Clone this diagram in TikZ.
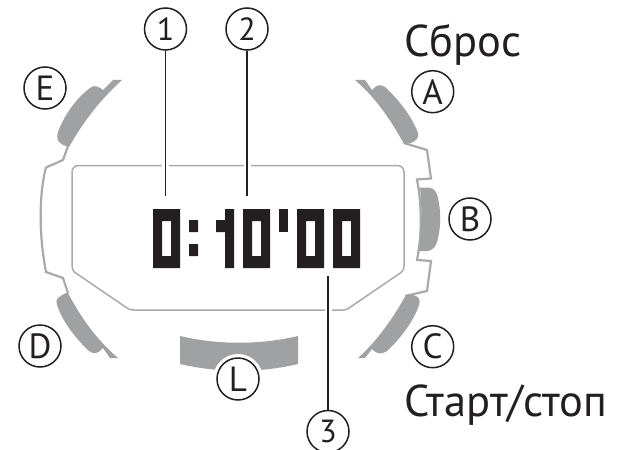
\documentclass[tikz,border=0pt]{standalone}
\usepackage{fontspec}
\setmainfont{PT Sans}
\newfontfamily\capfont{PT Sans}
\definecolor{ink}{HTML}{231F20}
\definecolor{btn}{HTML}{A0A1A3}
\definecolor{edge}{HTML}{A9AAAC}
\tikzset{
  mark circle/.style={circle,draw=ink,line width=1.5pt,minimum size=42pt,inner sep=0pt,text=ink,font=\fontsize{35}{35}\selectfont},
  digit circle/.style={mark circle,font=\fontsize{32}{32}\selectfont},
  leader/.style={draw=ink,line width=1.2pt},
  halo/.style={draw=white,line width=7pt},
  caption/.style={anchor=base west,inner sep=0pt,text=ink,font=\capfont\fontsize{44.5}{44.5}\selectfont},
  outline/.style={draw=edge,line width=1.5pt,line join=round},
  case/.style={draw=edge,line width=2.2pt,line join=miter},
  button/.style={fill=btn,draw=none},
  seg/.style={fill=ink,draw=none,even odd rule}
}
\begin{document}
\begin{tikzpicture}[x=1pt,y=-1pt]
\useasboundingbox (0,0) rectangle (617,449);
\fill[white] (0,0) rectangle (617,449);
% display outline
\draw[outline] (72,262) -- (72,172) .. controls (72,168) and (75,165.5) .. (79,165.5)
  -- (397,165.5) .. controls (401,165.5) and (404,168) .. (404,172) -- (404,266)
  .. controls (404,269) and (403,271) .. (401,272.5) -- (349,308) .. controls (347,309.5) and (345,310) .. (343,310)
  -- (134,310) .. controls (131,310) and (129,309.5) .. (127,308) -- (75,272.5) .. controls (73,271) and (72,269) .. (72,266) -- cycle;
% case lines
\draw[case] (68,146) -- (63,160) -- (46,167.5) .. controls (41,185) and (37,225) .. (46,272) -- (63,278) -- (68,293);
\draw[case] (404,143) -- (427,150) -- (431,178.5) -- (417,179.5) .. controls (422,205) and (422,235) .. (417,260) -- (431,261) -- (427,291) -- (405,296);
% buttons
\path[button] (113,80) -- (122,80) .. controls (100,100) and (83,122) .. (69,147) -- (63,145) .. controls (58,142) and (56,139) .. (58,132) .. controls (65,113) and (78,97) .. (90,88) .. controls (95,84) and (99,87) .. (103,90) -- cycle;
\path[button] (355,80) -- (365,80) -- (372,90) .. controls (376,85) and (380,84) .. (385,87) .. controls (400,101) and (412,117) .. (418,133) .. controls (419,138) and (416,141) .. (411,143) -- (404,144) .. controls (391,120) and (375,97) .. cycle;
\path[button] (420,187.5) -- (429,187.5) .. controls (434,188) and (437,192) .. (438,198) .. controls (441,212) and (441,225) .. (438,238) .. controls (437,246) and (433,250) .. (428,251) -- (419,251) .. controls (422,230) and (422,208) .. cycle;
\path[button] (358,358) -- (365,358) -- (372,349) .. controls (376,354) and (382,355) .. (387,351) .. controls (402,337) and (414,320) .. (419,305) .. controls (421,299) and (418,296) .. (413,295) -- (406,295) .. controls (393,318) and (378,340) .. cycle;
\path[button] (118,358) -- (110,358) -- (103,348) .. controls (99,353) and (94,355) .. (89,351) .. controls (74,337) and (62,320) .. (57,305) .. controls (55,299) and (58,297) .. (66,293) -- (68,293) .. controls (81,318) and (97,340) .. cycle;
\path[button] (180,336) .. controls (218,345) and (260,345) .. (298,336) -- (298,364) .. controls (260,373) and (218,373) .. (180,364) -- cycle;
% digits
\path[seg] (153,209) rectangle (180,268) (162,221) rectangle (171,256);
\path[seg] (189,220) rectangle (198,232) (189,244) rectangle (198,256);
\path[seg] (225,209) rectangle (234,268) (216,220) rectangle (225,232);
\path[seg] (243,209) rectangle (270,268) (252,221) rectangle (261,256);
\path[seg] (279,209) rectangle (288,232);
\path[seg] (297,209) rectangle (324,268) (306,221) rectangle (315,256);
\path[seg] (333,209) rectangle (360,268) (342,221) rectangle (351,256);
% callouts
\node[digit circle] (n1) at (165.5,29) {1};
\node[digit circle] (n2) at (247,29) {2};
\node[digit circle] (n3) at (328,431.5) {3};
\coordinate (e1) at (165.5,196);
\coordinate (e2) at (247,196);
\coordinate (e3) at (328,276);
\draw[halo] (165.5,158) -- (165.5,173);
\draw[halo] (247,158) -- (247,173);
\draw[halo] (328,303) -- (328,317);
\draw[leader] (n1) -- (e1);
\draw[leader] (n2) -- (e2);
\draw[leader] (n3) -- (e3);
\node[mark circle] (nE) at (45,88) {E};
\node[mark circle] (nA) at (432.7,91.7) {A};
\node[mark circle] (nB) at (470,219) {B};
\node[mark circle] (nC) at (432.7,346.7) {C};
\node[mark circle] (nD) at (40,346) {D};
\fill[white] (238,379) circle (25);
\node[mark circle] (nL) at (238,379) {L};
\node[caption] (t1) at (404,57) {Сброс};
\node[caption] (t2) at (404,416) {Старт/стоп};
\end{tikzpicture}
\end{document}
